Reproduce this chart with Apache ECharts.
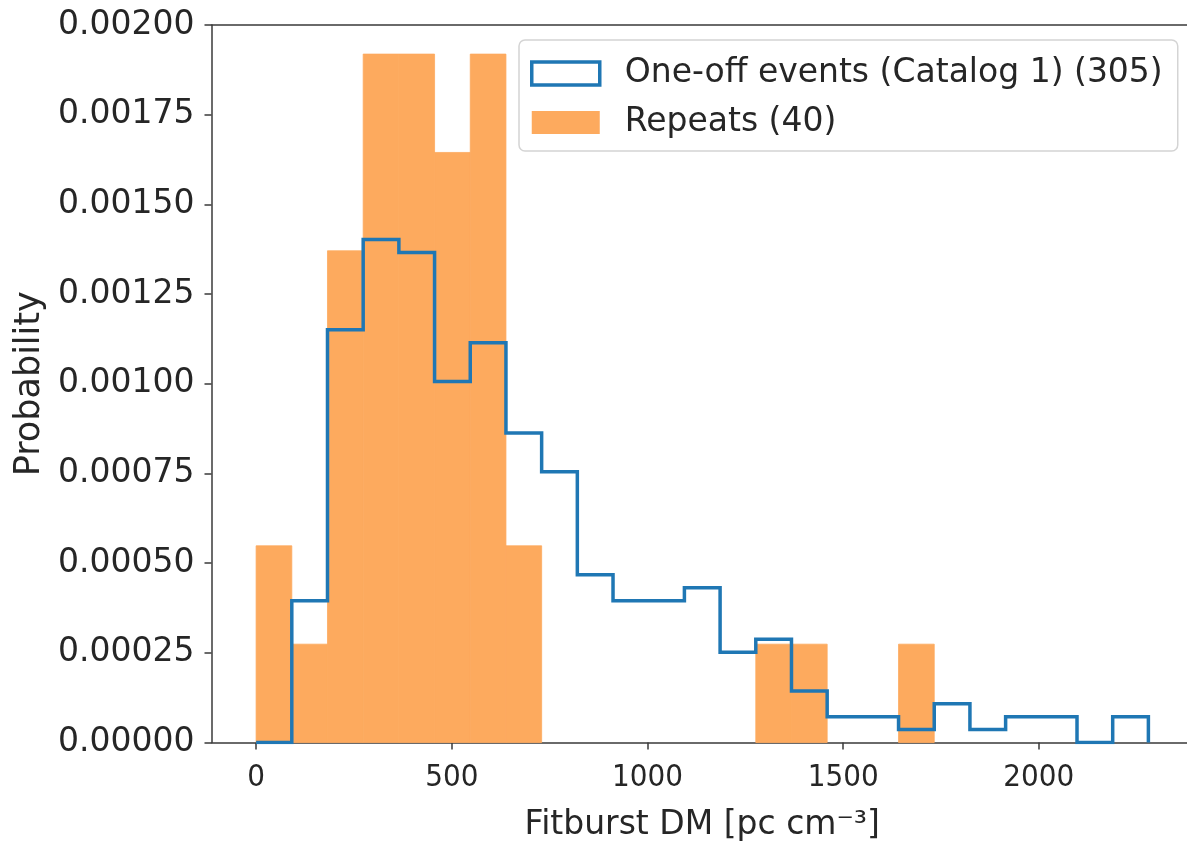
<!DOCTYPE html>
<html>
<head>
<meta charset="utf-8">
<title>Fitburst DM distribution</title>
<script src="https://cdn.jsdelivr.net/npm/echarts@6/dist/echarts.min.js"></script>
<style>
  html, body { margin: 0; padding: 0; background: #ffffff; }
  #chart { width: 1187px; height: 841px; }
</style>
</head>
<body>
<div id="chart"></div>
<script>
// Histogram bins shared by both samples (DM, pc cm^-3)
const binStart = 0;
const binWidth = 91.2;
const binCount = 25;

// Per-bin counts
const oneOffName = 'One-off events (Catalog 1) (305)';
const oneOffCounts = [0, 11, 32, 39, 38, 28, 31, 24, 21, 13, 11, 11, 12, 7, 8, 4, 2, 2, 1, 3, 1, 2, 2, 0, 2];
const repeatName = 'Repeats (40)';
const repeatCounts = [2, 1, 5, 7, 7, 6, 7, 2, 0, 0, 0, 0, 0, 0, 1, 1, 0, 0, 1, 0, 0, 0, 0, 0, 0];

// Axis ticks
const xTicks = [0, 500, 1000, 1500, 2000];
const yTicks = [0, 0.00025, 0.0005, 0.00075, 0.001, 0.00125, 0.0015, 0.00175, 0.002];

const edges = [];
for (let i = 0; i <= binCount; i++) edges.push(binStart + i * binWidth);

// Normalise counts to a probability density (area = 1)
function density(counts) {
  const n = counts.reduce((a, b) => a + b, 0);
  return counts.map(c => c / (n * binWidth));
}
const oneOffDensity = density(oneOffCounts);
const repeatDensity = density(repeatCounts);

// Filled bars for the repeaters: [left edge, right edge, density]
const repeatBars = repeatDensity.map((d, i) => [edges[i], edges[i + 1], d]);

// Outline for the one-off events, drawn as a stepped line
const oneOffStep = [[edges[0], 0]];
oneOffDensity.forEach((d, i) => oneOffStep.push([edges[i], d]));
oneOffStep.push([edges[binCount], oneOffDensity[binCount - 1]]);
oneOffStep.push([edges[binCount], 0]);

const BLUE = '#1f77b4';
const ORANGE = '#fdaa5e';
const TEXT = '#262626';
const AXIS = '#3a3a3a';
const NARROW = "'DejaVu Sans Condensed', 'Liberation Sans Narrow', 'DejaVu Sans', sans-serif";
const X_MIN = -114, X_MAX = 2394;

const chart = echarts.init(document.getElementById('chart'), null, { renderer: 'canvas' });

chart.setOption({
  animation: false,
  backgroundColor: '#ffffff',
  grid: {
    left: 211.5, top: 25, bottom: 98.5, right: -6,
    show: false, containLabel: false,
    outerBoundsMode: 'none'
  },
  legend: {
    orient: 'vertical',
    left: 519, top: 40,
    padding: [17, 15, 12, 11],
    itemGap: 16,
    itemWidth: 68, itemHeight: 23,
    backgroundColor: 'rgba(255,255,255,0.8)',
    borderColor: '#d4d4d4', borderWidth: 1.5, borderRadius: 6,
    textStyle: { fontFamily: 'DejaVu Sans', fontSize: 33, color: TEXT, padding: [0, 0, 0, 20] },
    data: [
      { name: oneOffName, icon: 'rect', itemStyle: { color: '#ffffff', borderColor: BLUE, borderWidth: 3.5 } },
      { name: repeatName, icon: 'rect', itemStyle: { color: ORANGE, borderWidth: 0 } }
    ]
  },
  xAxis: [
    {
      type: 'value',
      min: X_MIN, max: X_MAX,
      name: 'Fitburst DM [pc cm⁻³]',
      nameLocation: 'middle', nameGap: 66,
      nameTextStyle: { fontFamily: 'DejaVu Sans', fontSize: 33, color: TEXT },
      axisLine: { show: true, onZero: false, lineStyle: { color: AXIS, width: 1.5 } },
      axisTick: { show: true, customValues: xTicks, length: 7, lineStyle: { color: AXIS, width: 1.5 } },
      axisLabel: {
        customValues: xTicks, margin: 20, fontFamily: NARROW, fontSize: 31, color: TEXT,
        formatter: v => String(v)
      },
      splitLine: { show: false }
    },
    {
      // top spine
      type: 'value', position: 'top',
      min: X_MIN, max: X_MAX,
      axisLine: { show: true, onZero: false, lineStyle: { color: AXIS, width: 1.5 } },
      axisTick: { show: false }, axisLabel: { show: false }, splitLine: { show: false }
    }
  ],
  yAxis: {
    type: 'value',
    min: yTicks[0], max: yTicks[yTicks.length - 1], interval: 0.00025,
    name: 'Probability',
    nameLocation: 'middle', nameGap: 149,
    nameTextStyle: { fontFamily: 'DejaVu Sans', fontSize: 35, color: TEXT },
    axisLine: { show: true, onZero: false, lineStyle: { color: AXIS, width: 1.5 } },
    axisTick: { show: true, length: 7, lineStyle: { color: AXIS, width: 1.5 } },
    axisLabel: {
      margin: 17, fontFamily: 'DejaVu Sans', fontSize: 33, color: TEXT,
      formatter: v => v.toFixed(5)
    },
    splitLine: { show: false }
  },
  series: [
    {
      name: repeatName,
      type: 'custom',
      xAxisIndex: 0,
      z: 2,
      itemStyle: { color: ORANGE },
      encode: { x: [0, 1], y: 2 },
      data: repeatBars,
      renderItem: (params, api) => {
        const h = api.value(2);
        if (!h) return null;
        const p0 = api.coord([api.value(0), h]);
        const p1 = api.coord([api.value(1), 0]);
        return {
          type: 'rect',
          shape: { x: p0[0], y: p0[1], width: p1[0] - p0[0], height: p1[1] - p0[1] },
          style: { fill: ORANGE, stroke: ORANGE, lineWidth: 0.8 }
        };
      }
    },
    {
      name: oneOffName,
      type: 'line',
      xAxisIndex: 0,
      z: 3,
      step: 'end',
      symbol: 'none',
      color: BLUE,
      lineStyle: { color: BLUE, width: 3.5, join: 'miter' },
      data: oneOffStep
    }
  ]
});
</script>
</body>
</html>
